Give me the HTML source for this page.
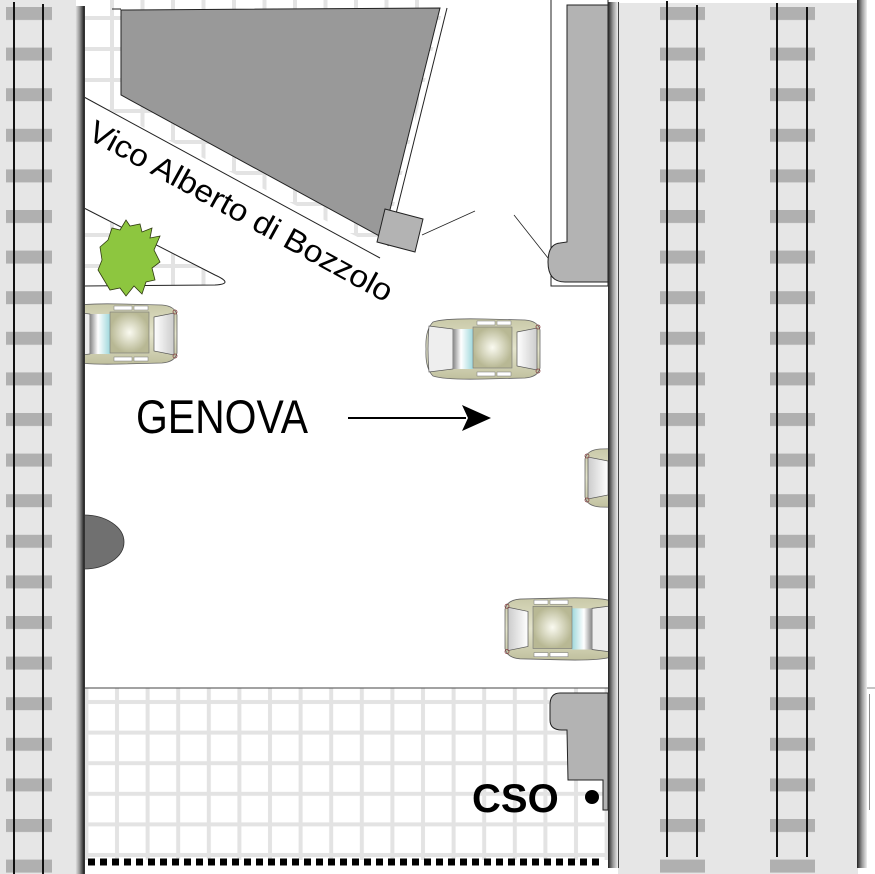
<!DOCTYPE html>
<html><head><meta charset="utf-8"><style>
html,body{margin:0;padding:0;background:#fff;}
svg{display:block;}
text{font-family:"Liberation Sans",Arial,sans-serif;}
</style></head><body>
<svg width="875" height="874" viewBox="0 0 875 874" xmlns="http://www.w3.org/2000/svg">
<defs>
<pattern id="g1" x="112" y="18" width="30.5" height="31" patternUnits="userSpaceOnUse">
<rect x="-2" y="0" width="4" height="31" fill="#e3e3e3"/><rect x="28.5" y="0" width="4" height="31" fill="#e3e3e3"/>
<rect x="0" y="-2" width="30.5" height="4" fill="#e3e3e3"/><rect x="0" y="29" width="30.5" height="4" fill="#e3e3e3"/>
</pattern>
<pattern id="g2" x="423" y="702" width="30.6" height="30.6" patternUnits="userSpaceOnUse">
<rect x="-2" y="0" width="4" height="31" fill="#e3e3e3"/><rect x="28.6" y="0" width="4" height="31" fill="#e3e3e3"/>
<rect x="0" y="-2" width="31" height="4" fill="#e3e3e3"/><rect x="0" y="28.6" width="31" height="4" fill="#e3e3e3"/>
</pattern>
<pattern id="ties" x="0" y="7" width="10" height="40.6" patternUnits="userSpaceOnUse">
<rect x="0" y="0" width="10" height="13" fill="#b0b0b0"/>
</pattern>
<linearGradient id="wl" x1="0" x2="1"><stop offset="0" stop-color="#eee"/><stop offset="0.5" stop-color="#999"/><stop offset="1" stop-color="#222"/></linearGradient>
<linearGradient id="wr" x1="0" x2="1"><stop offset="0" stop-color="#222"/><stop offset="0.5" stop-color="#999"/><stop offset="1" stop-color="#eee"/></linearGradient>
<radialGradient id="roof"><stop offset="0" stop-color="#fafaf0"/><stop offset="1" stop-color="#b8b894"/></radialGradient>
<linearGradient id="body" x1="0" y1="0" x2="0" y2="1"><stop offset="0" stop-color="#c9c9a8"/><stop offset="0.5" stop-color="#e4e4cc"/><stop offset="1" stop-color="#c0c09e"/></linearGradient>
<linearGradient id="glass" x1="0" x2="1"><stop offset="0" stop-color="#888"/><stop offset="0.4" stop-color="#fff"/><stop offset="1" stop-color="#9fd8dc"/></linearGradient>
<linearGradient id="ws" x1="0" x2="1"><stop offset="0" stop-color="#fff"/><stop offset="1" stop-color="#ccc"/></linearGradient>
<g id="car">
<path d="M8,4 Q20,0 60,1 L100,2 Q113,3 115,12 L115,50 Q113,59 100,60 L60,61 Q20,62 8,58 Q0,50 1,31 Q0,12 8,4Z" fill="url(#body)" stroke="#666" stroke-width="0.8"/>
<path d="M4,8 L28,11 L28,51 L4,54 Q2,31 4,8Z" fill="#eee" stroke="#555" stroke-width="0.7"/>
<rect x="28" y="11" width="20" height="40" fill="url(#glass)"/>
<rect x="48" y="9" width="39" height="41" fill="url(#roof)" stroke="#777" stroke-width="0.6"/>
<path d="M92,14 L112,10 L112,52 L92,48Z" fill="url(#ws)" stroke="#555" stroke-width="0.7"/>
<rect x="52" y="3" width="18" height="4" fill="#fff" stroke="#777" stroke-width="0.5"/>
<rect x="72" y="3" width="14" height="4" fill="#fff" stroke="#777" stroke-width="0.5"/>
<rect x="52" y="54" width="18" height="4" fill="#fff" stroke="#777" stroke-width="0.5"/>
<rect x="72" y="54" width="14" height="4" fill="#fff" stroke="#777" stroke-width="0.5"/>
<circle cx="113" cy="9" r="2" fill="none" stroke="#844" stroke-width="0.8"/>
<circle cx="113" cy="53" r="2" fill="none" stroke="#844" stroke-width="0.8"/>
</g>
</defs>

<!-- top-left grid regions -->
<polygon points="84,0 445,0 383,250 84,97" fill="url(#g1)"/>
<path d="M84,208 L215,275 Q235,284 215,285 L84,286Z" fill="url(#g1)"/>
<!-- street white band -->
<polygon points="84,97 380,258 380,300 84,300 84,212" fill="#fff"/>
<path d="M84,208 L215,275 Q235,284 215,285 L84,286Z" fill="url(#g1)" stroke="#222" stroke-width="1"/>
<line x1="84" y1="97" x2="380" y2="258" stroke="#222" stroke-width="1"/>

<!-- building -->
<polygon points="121,10 440,8 383,238 121,95" fill="#999" stroke="#222" stroke-width="1"/>
<line x1="447" y1="8" x2="388" y2="246" stroke="#222" stroke-width="1"/>
<line x1="112" y1="9" x2="121" y2="9" stroke="#222" stroke-width="1"/>
<polygon points="385,209 423,219 415,252 377,242" fill="#b3b3b3" stroke="#222" stroke-width="1"/>
<line x1="422" y1="235" x2="475" y2="211" stroke="#222" stroke-width="0.8"/>
<line x1="514" y1="215" x2="548" y2="258" stroke="#222" stroke-width="0.8"/>

<!-- right building -->
<rect x="551" y="-2" width="57" height="288" fill="#fff" stroke="#222" stroke-width="1"/>
<path d="M567,5 H608 V282 H565 Q548,282 548,262 Q548,244 560,243 L567,242 Z" fill="#b3b3b3" stroke="#222" stroke-width="1"/>

<!-- tree -->
<path d="M100,247 L108,240 L112,228 L120,230 L126,220 L130,226 L140,224 L142,232 L152,228 L150,238 L160,236 L154,250 L160,262 L152,268 L155,280 L146,282 L142,294 L134,286 L126,296 L120,288 L110,290 L104,280 L98,270 L102,260Z" fill="#8dc63f" stroke="#2f3a10" stroke-width="0.8"/>

<!-- bottom grid -->
<rect x="84" y="688" width="524" height="172" fill="url(#g2)"/>
<line x1="84" y1="688" x2="608" y2="688" stroke="#444" stroke-width="1"/>
<path d="M608,693 H560 Q550,693 550,705 V720 Q550,730 562,730 H567 L568,780 H603 V810 H608 Z" fill="#b3b3b3" stroke="#222" stroke-width="1"/>
<line x1="88" y1="862" x2="604" y2="862" stroke="#000" stroke-width="7" stroke-dasharray="7,5"/>
<text x="472" y="812" font-size="40" font-weight="bold" fill="#000">CSO</text>
<circle cx="592" cy="797" r="7" fill="#000"/>

<!-- ellipse -->
<ellipse cx="84" cy="542" rx="40" ry="27" fill="#707070" stroke="#333" stroke-width="0.8"/>

<!-- cars -->
<use href="#car" transform="translate(62,303)"/>
<use href="#car" transform="translate(425,318)"/>
<use href="#car" transform="translate(700,447) scale(-1,1)"/>
<use href="#car" transform="translate(620,597) scale(-1,1.03)"/>

<!-- street label -->
<text transform="translate(86,138) rotate(28.8)" font-size="31" fill="#000" textLength="342" lengthAdjust="spacingAndGlyphs">Vico Alberto di Bozzolo</text>

<!-- GENOVA -->
<text x="136" y="433" font-size="42" fill="#000" textLength="172" lengthAdjust="spacingAndGlyphs" transform="translate(0,-58) scale(1,1.134)">GENOVA</text>
<line x1="348" y1="418" x2="466" y2="418" stroke="#000" stroke-width="2"/>
<polygon points="462,405 491,418 462,431 468,418" fill="#000"/>

<!-- left track -->
<rect x="0" y="0" width="76" height="874" fill="#e6e6e6"/>
<rect x="6" y="0" width="46" height="874" fill="url(#ties)"/>
<rect x="13" y="2" width="2" height="872" fill="#111"/>
<rect x="42" y="4" width="2" height="870" fill="#111"/>
<rect x="75" y="6" width="9" height="868" fill="url(#wl)"/>
<line x1="84.5" y1="6" x2="84.5" y2="874" stroke="#333" stroke-width="1"/>

<!-- right tracks -->
<rect x="618" y="3" width="240" height="871" fill="#e6e6e6"/>
<rect x="660" y="0" width="45" height="874" fill="url(#ties)"/>
<rect x="770" y="2" width="45" height="872" fill="url(#ties)"/>
<rect x="666" y="1" width="2" height="856" fill="#111"/>
<rect x="696" y="5" width="2" height="852" fill="#111"/>
<rect x="776" y="3" width="2" height="854" fill="#111"/>
<rect x="806" y="7" width="2" height="850" fill="#111"/>
<rect x="608" y="2" width="10" height="866" fill="url(#wr)"/>
<line x1="618.5" y1="2" x2="618.5" y2="868" stroke="#444" stroke-width="1"/>
<rect x="857" y="0" width="10" height="868" fill="url(#wr)"/>
<line x1="867" y1="688" x2="875" y2="688" stroke="#888" stroke-width="1"/>
<line x1="869.5" y1="694" x2="869.5" y2="810" stroke="#888" stroke-width="1"/>
</svg>
</body></html>
